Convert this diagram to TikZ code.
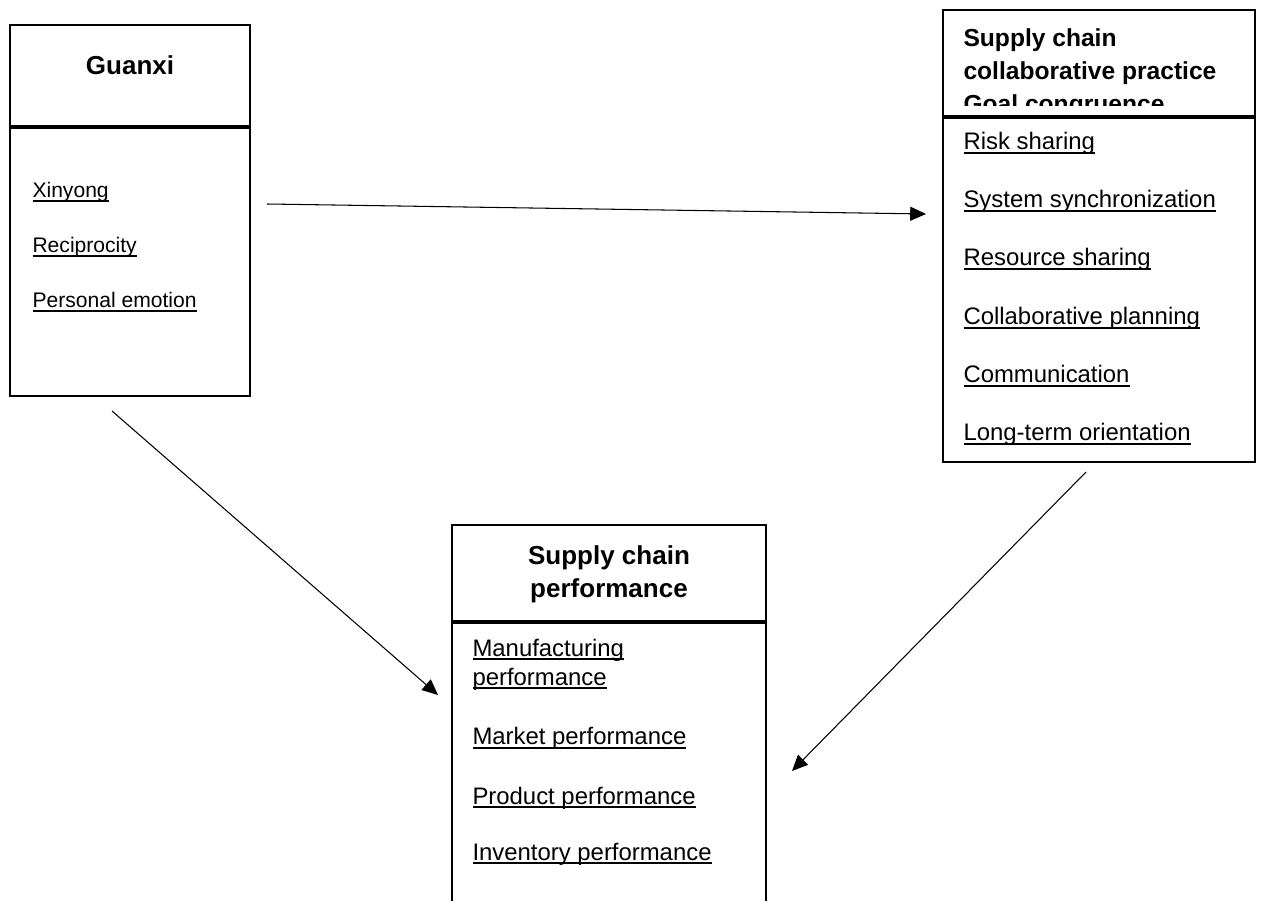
\documentclass[tikz,border=0pt]{standalone}
\usepackage{fontspec}
\setmainfont{Liberation Sans}
\usetikzlibrary{arrows.meta,positioning}

\newcommand{\ulitem}[1]{\setbox0\hbox{#1}\rlap{\rule[-2.1pt]{\wd0}{0.8pt}}\box0}

\begin{document}
\begin{tikzpicture}[x=0.02cm,y=-0.02cm,>={Triangle[length=9pt,width=8pt]},line width=0.6pt]
  \tikzstyle{frame}=[draw,line width=1.2pt,inner sep=0pt,outer sep=0pt]
  \tikzstyle{title}=[font=\bfseries\fontsize{14.8}{18.8}\selectfont,align=center,inner sep=0pt]
  \tikzstyle{item}=[font=\fontsize{13.6}{16.5}\selectfont,anchor=base west,inner sep=0pt,align=left]
  \tikzstyle{small item}=[item,font=\fontsize{12}{14}\selectfont]
  \tikzstyle{divider}=[line width=2pt]

  \clip (0,0) rectangle (1261,901);

  \node[frame,anchor=north west,minimum width=4.8cm,minimum height=2.04cm] (GH) at (10,25) {};
  \node[frame,below=0pt of GH,minimum width=4.8cm,minimum height=5.38cm]    (GB) {};
  \node[frame,anchor=north west,minimum width=6.24cm,minimum height=2.14cm] (CH) at (943,10) {};
  \node[frame,below=0pt of CH,minimum width=6.24cm,minimum height=6.9cm]    (CB) {};
  \node[frame,anchor=north west,minimum width=6.28cm,minimum height=1.94cm] (PH) at (452,525) {};
  \node[frame,below=0pt of PH,minimum width=6.28cm,minimum height=6cm]      (PB) {};

  \draw[divider] (GB.north west) -- (GB.north east);
  \draw[divider] (CB.north west) -- (CB.north east);
  \draw[divider] (PB.north west) -- (PB.north east);

  \node[title,anchor=north] (GT) at (130,55)  {Guanxi};
  \node[title,anchor=north] (PT) at (609,545) {Supply chain\\performance};
  \begin{scope}
    \clip (943,10) rectangle (1255,106);
    \node[title,align=left,anchor=north west,font=\bfseries\fontsize{14}{18.8}\selectfont] (CT) at (963,28)
      {Supply chain\\collaborative practice\\Goal congruence};
  \end{scope}

  \node[small item] (G1) at (32,198) {\ulitem{Xinyong}};
  \node[small item] (G2) at (32,253) {\ulitem{Reciprocity}};
  \node[small item] (G3) at (32,308) {\ulitem{Personal emotion}};

  \node[item] (C1) at (963,150) {\ulitem{Risk sharing}};
  \node[item] (C2) at (963,208) {\ulitem{System synchronization}};
  \node[item] (C3) at (963,266) {\ulitem{Resource sharing}};
  \node[item] (C4) at (963,325) {\ulitem{Collaborative planning}};
  \node[item] (C5) at (963,383) {\ulitem{Communication}};
  \node[item] (C6) at (963,441) {\ulitem{Long-term orientation}};

  \node[item] (P1) at (472,685) {\ulitem{Manufacturing}\\\ulitem{performance}};
  \node[item] (P2) at (472,745) {\ulitem{Market performance}};
  \node[item] (P3) at (472,804) {\ulitem{Product performance}};
  \node[item] (P4) at (472,860) {\ulitem{Inventory performance}};

  \coordinate (GtoC) at (267,204);
  \coordinate (CIn)  at (926,214);
  \coordinate (GtoP) at (112,411);
  \coordinate (PInL) at (438,695);
  \coordinate (CtoP) at (1086,472);
  \coordinate (PInR) at (792,771);

  \draw[->] (GtoC) -- (CIn);
  \draw[->] (GtoP) -- (PInL);
  \draw[->] (CtoP) -- (PInR);
\end{tikzpicture}
\end{document}
